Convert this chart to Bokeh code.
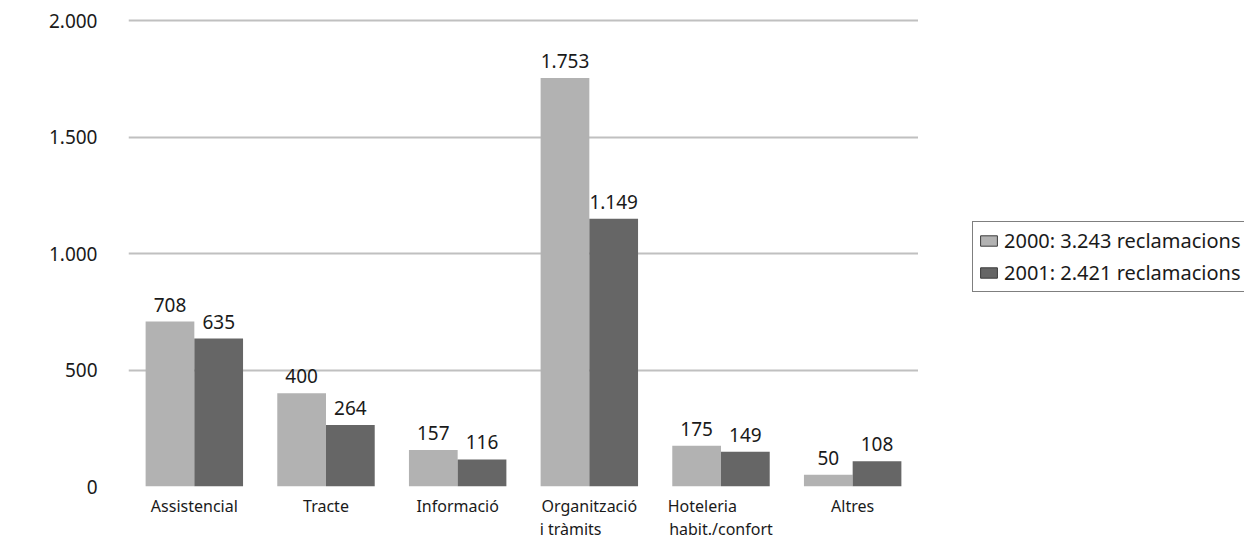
from bokeh.plotting import figure
from bokeh.layouts import row
from bokeh.models import (FactorRange, Range1d, FixedTicker, ColumnDataSource,
                          Legend, LegendItem, CustomJSTickFormatter)
from bokeh.transform import dodge
from bokeh.core.properties import value
from bokeh.embed import file_html
from bokeh.resources import INLINE

# Complaints by category, two years
categories = ["Assistencial", "Tracte", "Informació", "Organització i tràmits",
              "Hoteleria habit./confort", "Altres"]
# axis text for each category; the short line of a two-line label is padded
# so that both lines start at the same x
x_tick_labels = ["Assistencial", "Tracte", "Informació",
                 "Organització\ni tràmits" + " " * 9,
                 "Hoteleria" + " " * 9 + "\nhabit./confort", "Altres"]
values_2000 = [708, 400, 157, 1753, 175, 50]
values_2001 = [635, 264, 116, 1149, 149, 108]
series_names = ["2000: 3.243 reclamacions", "2001: 2.421 reclamacions"]
y_ticks = [0, 500, 1000, 1500, 2000]
y_tick_labels = ["0", "500", "1.000", "1.500", "2.000"]

FONT = "Noto Sans"
TEXT = "#1a1a1a"
LIGHT = "#b2b2b2"
DARK = "#666666"


def thousands(v):
    return f"{v:,}".replace(",", ".")


src = ColumnDataSource(dict(
    cat=categories,
    v2000=values_2000,
    v2001=values_2001,
    l2000=[thousands(v) for v in values_2000],
    l2001=[thousands(v) for v in values_2001],
))

p = figure(width=918, height=542,
           x_range=FactorRange(*categories, range_padding=0),
           y_range=Range1d(0, 2043),
           output_backend="svg", toolbar_location=None,
           min_border_left=128, min_border_right=0,
           min_border_top=10, min_border_bottom=55)
p.outline_line_color = None
p.background_fill_color = "white"
p.border_fill_color = "white"

# grid: horizontal lines only, none at zero
p.xgrid.grid_line_color = None
p.ygrid.ticker = FixedTicker(ticks=y_ticks[1:])
p.ygrid.grid_line_color = "#c0c0c0"
p.ygrid.grid_line_width = 2

# y axis; labels hang just below their grid line
p.yaxis.ticker = FixedTicker(ticks=y_ticks)
p.yaxis.major_label_overrides = dict(zip(y_ticks, y_tick_labels))
p.yaxis.axis_line_color = None
p.yaxis.major_tick_line_color = None
p.yaxis.minor_tick_line_color = None
p.yaxis.major_tick_out = 0
p.yaxis.major_label_standoff = 31
p.yaxis.major_label_text_font = FONT
p.yaxis.major_label_text_font_size = "19px"
p.yaxis.major_label_text_color = TEXT
p.yaxis.major_label_text_baseline = "hanging"

# x axis
p.xaxis.formatter = CustomJSTickFormatter(
    args=dict(names=dict(zip(categories, x_tick_labels))),
    code="return names[tick]")
p.xaxis.axis_line_color = None
p.xaxis.major_tick_line_color = None
p.xaxis.minor_tick_line_color = None
p.xaxis.major_tick_out = 0
p.xaxis.major_label_standoff = 8
p.xaxis.major_label_text_font = FONT
p.xaxis.major_label_text_font_size = "16px"
p.xaxis.major_label_text_color = TEXT
p.xaxis.major_label_text_line_height = 1.05

# bars
x_a = dodge("cat", -0.185, range=p.x_range)
x_b = dodge("cat", 0.185, range=p.x_range)
p.vbar(x=x_a, top="v2000", width=0.37, source=src, fill_color=LIGHT, line_color=None)
p.vbar(x=x_b, top="v2001", width=0.37, source=src, fill_color=DARK, line_color=None)

# value labels
for xx, col, lab in [(x_a, "v2000", "l2000"), (x_b, "v2001", "l2001")]:
    p.text(x=xx, y=col, text=lab, source=src, text_align="center",
           text_baseline="alphabetic", y_offset=-17,
           text_font=value(FONT), text_font_size="19px", text_color=TEXT)

# legend lives in its own narrow panel to the right of the chart
lg = figure(width=326, height=542, x_range=p.x_range, y_range=p.y_range,
            output_backend="svg", toolbar_location=None,
            min_border=0, min_border_left=0, min_border_right=0,
            min_border_top=0, min_border_bottom=0)
lg.outline_line_color = None
lg.axis.visible = False
lg.grid.visible = False
lg.background_fill_color = "white"
lg.border_fill_color = "white"

# hidden outlined copies of the bars supply the legend swatches
sw1 = lg.vbar(x=x_a, top="v2000", width=0.37, source=src, fill_color=LIGHT,
              line_color="#3a3a3a", visible=False)
sw2 = lg.vbar(x=x_b, top="v2001", width=0.37, source=src, fill_color=DARK,
              line_color="#3a3a3a", visible=False)

legend = Legend(items=[LegendItem(label=series_names[0], renderers=[sw1], index=0),
                       LegendItem(label=series_names[1], renderers=[sw2], index=0)],
                location=(54, 194),
                border_line_color="black", border_line_width=1,
                background_fill_color="white", background_fill_alpha=1,
                padding=5, spacing=5, margin=0,
                glyph_width=21, glyph_height=13, label_standoff=5,
                label_height=20,
                label_text_font=FONT, label_text_font_size="20px",
                label_text_color=TEXT)
lg.add_layout(legend, "center")

open("out.html", "w").write(file_html(row(p, lg), INLINE))
